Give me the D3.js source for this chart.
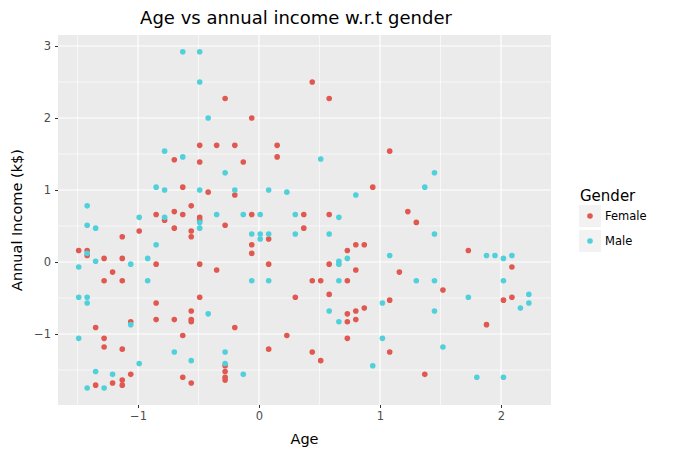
<!DOCTYPE html>
<html>
<head>
<meta charset="utf-8">
<script src="https://cdn.jsdelivr.net/npm/d3@7"></script>
<style>
  body { margin: 0; background: #fff; }
  text { font-family: "DejaVu Sans", sans-serif; }
</style>
</head>
<body>
<script>
// standardized [age, income]
const female = [
  [-0.28, 2.27], [-0.49, 1.62], [-0.35, 1.62], [-0.70, 1.42], [-0.49, 1.39],
  [0.44, 2.50], [0.58, 2.27], [-0.06, 2.00], [-0.20, 1.62], [0.15, 1.62], [0.15, 1.46],
  [-0.13, 1.39], [1.08, 1.54],
  [-0.63, 1.04], [-0.42, 0.97], [-0.56, 0.78], [-0.70, 0.70], [-0.85, 0.66], [-0.63, 0.66],
  [-0.78, 0.58], [-0.49, 0.62], [-0.49, 0.58], [-0.28, 0.51], [-0.70, 0.47], [-0.99, 0.43],
  [-0.56, 0.43], [-1.13, 0.35], [-0.56, 0.35], [-1.49, 0.16], [-1.42, 0.16], [-1.42, 0.09],
  [-1.28, 0.05], [-1.13, 0.05], [-0.85, -0.03], [-0.49, -0.03], [-0.35, -0.11], [-1.21, -0.14],
  [-1.28, -0.26], [-1.13, -0.26],
  [-0.20, 0.93], [0.94, 1.04], [-0.06, 0.66], [0.37, 0.66], [0.58, 0.66], [0.37, 0.47],
  [0.08, 0.32], [-0.06, 0.24], [0.80, 0.24], [0.87, 0.24], [0.73, 0.16], [-0.06, 0.12],
  [0.08, -0.03], [0.58, -0.03], [0.80, -0.11], [0.44, -0.26], [0.51, -0.26], [0.73, -0.26],
  [1.23, 0.70], [1.30, 0.55], [1.73, 0.16], [2.09, -0.07], [1.16, -0.14], [1.52, -0.39],
  [-0.49, -0.49], [-0.85, -0.57], [-0.56, -0.68], [-0.56, -0.80], [-0.56, -0.83], [-0.85, -0.80],
  [-0.70, -0.80], [-1.06, -0.83], [-1.35, -0.91], [-0.63, -1.02], [-1.28, -1.06], [-1.28, -1.18],
  [-1.13, -1.21], [-0.28, -1.44], [-0.28, -1.52], [-0.28, -1.60], [-0.28, -1.64], [-1.06, -1.56],
  [-0.63, -1.60], [-1.13, -1.64], [-1.21, -1.68], [-0.56, -1.68], [-1.35, -1.71], [-1.13, -1.71],
  [0.30, -0.49], [0.58, -0.45], [1.08, -0.53], [0.73, -0.72], [0.80, -0.68], [0.87, -0.64],
  [0.73, -0.83], [0.80, -0.80], [-0.20, -0.91], [0.23, -1.02], [0.73, -1.06], [0.08, -1.21],
  [0.44, -1.25], [1.08, -1.25], [0.51, -1.37],
  [2.02, -0.53], [2.09, -0.49], [1.88, -0.87], [1.37, -1.56]
];
const male = [
  [-0.63, 2.92], [-0.49, 2.92], [-0.49, 2.50], [-0.42, 2.00], [-0.78, 1.54], [-0.63, 1.46],
  [0.51, 1.43],
  [-0.28, 1.24], [-0.85, 1.04], [-0.78, 1.00], [-0.49, 1.00], [-1.42, 0.78], [-0.35, 0.66],
  [-0.99, 0.62], [-0.78, 0.62], [-0.49, 0.55], [-1.42, 0.51], [-1.35, 0.47], [-0.49, 0.47],
  [-0.85, 0.24], [-1.42, 0.12], [-0.92, 0.05], [-1.35, 0.01], [-1.06, -0.03], [-1.49, -0.07],
  [-0.92, -0.26],
  [-0.20, 1.00], [0.08, 1.00], [0.23, 0.97], [0.80, 0.93], [-0.13, 0.66], [0.01, 0.66],
  [0.30, 0.66], [0.66, 0.62], [-0.06, 0.39], [0.01, 0.39], [0.08, 0.39], [0.30, 0.39],
  [0.58, 0.39], [0.01, 0.32], [1.08, 0.09], [0.73, 0.05], [0.66, 0.01], [0.66, -0.03],
  [-0.06, -0.26], [0.08, -0.26], [0.66, -0.26],
  [1.45, 1.24], [1.37, 1.04], [1.45, 0.39], [1.88, 0.09], [1.95, 0.09], [2.02, 0.05],
  [2.09, 0.09], [1.30, -0.26], [1.45, -0.26], [2.02, -0.26],
  [-1.49, -0.49], [-1.42, -0.49], [-1.42, -0.57], [-0.42, -0.72], [-1.06, -0.87], [-1.49, -1.06],
  [-0.70, -1.25], [-0.28, -1.25], [-0.56, -1.37], [-0.99, -1.41], [-0.28, -1.41], [-1.35, -1.52],
  [-1.21, -1.56], [-1.42, -1.75], [-1.28, -1.75],
  [1.02, -0.57], [0.58, -0.68], [0.66, -0.83], [1.02, -1.06], [0.94, -1.44], [-0.13, -1.56],
  [1.73, -0.49], [2.23, -0.45], [2.23, -0.57], [2.16, -0.64], [1.45, -0.68], [1.52, -1.18],
  [1.80, -1.60], [2.02, -1.60]
];
const genders = ["Female", "Male"];
const colors = ["#E0584F", "#4FD0DA"];
const xTicks = [-1, 0, 1, 2];
const yTicks = [-1, 0, 1, 2, 3];
const xMinor = [-1.5, -0.5, 0.5, 1.5];
const yMinor = [-1.5, -0.5, 0.5, 1.5, 2.5];

const width = 676, height = 456;
const panel = { left: 58, right: 551, top: 35, bottom: 405 };

const svg = d3.select("body").append("svg")
  .attr("width", width)
  .attr("height", height);

const x = d3.scaleLinear().domain([-1.661, 2.413]).range([panel.left, panel.right]);
const y = d3.scaleLinear().domain([-1.986, 3.153]).range([panel.bottom, panel.top]);
const color = d3.scaleOrdinal().domain(genders).range(colors);

svg.append("rect")
  .attr("x", panel.left).attr("y", panel.top)
  .attr("width", panel.right - panel.left)
  .attr("height", panel.bottom - panel.top)
  .attr("fill", "#EBEBEB");

let grid = svg.append("g");
grid.selectAll(".xminor").data(xMinor).enter().append("line")
  .attr("x1", d => x(d)).attr("x2", d => x(d))
  .attr("y1", panel.top).attr("y2", panel.bottom)
  .attr("stroke", "#fff").attr("stroke-width", 0.6);
grid.selectAll(".yminor").data(yMinor).enter().append("line")
  .attr("y1", d => y(d)).attr("y2", d => y(d))
  .attr("x1", panel.left).attr("x2", panel.right)
  .attr("stroke", "#fff").attr("stroke-width", 0.6);
grid.selectAll(".xmajor").data(xTicks).enter().append("line")
  .attr("x1", d => x(d)).attr("x2", d => x(d))
  .attr("y1", panel.top).attr("y2", panel.bottom)
  .attr("stroke", "#fff").attr("stroke-width", 1.2);
grid.selectAll(".ymajor").data(yTicks).enter().append("line")
  .attr("y1", d => y(d)).attr("y2", d => y(d))
  .attr("x1", panel.left).attr("x2", panel.right)
  .attr("stroke", "#fff").attr("stroke-width", 1.2);

let fmt = d => d < 0 ? "\u2212" + Math.abs(d) : String(d);

let xAxis = svg.append("g")
  .attr("transform", `translate(0,${panel.bottom})`)
  .call(d3.axisBottom(x).tickValues(xTicks).tickFormat(fmt).tickSize(3).tickPadding(4));
let yAxis = svg.append("g")
  .attr("transform", `translate(${panel.left},0)`)
  .call(d3.axisLeft(y).tickValues(yTicks).tickFormat(fmt).tickSize(3).tickPadding(4));
[xAxis, yAxis].forEach(a => {
  a.select(".domain").remove();
  a.selectAll(".tick line").attr("stroke", "#333").attr("stroke-width", 1);
  a.selectAll(".tick text").attr("fill", "#4D4D4D")
    .style("font-family", "DejaVu Sans").style("font-size", "11.5px");
});

let points = [
  ...female.map(d => ({ age: d[0], income: d[1], gender: "Female" })),
  ...male.map(d => ({ age: d[0], income: d[1], gender: "Male" }))
];

svg.append("g").selectAll("circle")
  .data(points)
  .enter()
  .append("circle")
  .attr("cx", d => x(d.age))
  .attr("cy", d => y(d.income))
  .attr("r", 2.8)
  .attr("fill", d => color(d.gender));

svg.append("text")
  .attr("x", 296).attr("y", 24)
  .attr("text-anchor", "middle")
  .style("font-size", "18px")
  .text("Age vs annual income w.r.t gender");

svg.append("text")
  .attr("x", (panel.left + panel.right) / 2).attr("y", 444)
  .attr("text-anchor", "middle")
  .style("font-size", "14.5px")
  .text("Age");

svg.append("text")
  .attr("transform", `translate(22,${(panel.top + panel.bottom) / 2}) rotate(-90)`)
  .attr("text-anchor", "middle")
  .style("font-size", "14.5px")
  .text("Annual Income (k$)");

let legend = svg.append("g");
legend.append("text")
  .attr("x", 580).attr("y", 201)
  .style("font-size", "15px")
  .text("Gender");
let keys = legend.selectAll(".key").data(genders).enter().append("g")
  .attr("transform", (d, i) => `translate(579,${205 + i * 25})`);
keys.append("rect")
  .attr("width", 22).attr("height", 22)
  .attr("fill", "#F2F2F2");
keys.append("circle")
  .attr("cx", 11).attr("cy", 11).attr("r", 2.8)
  .attr("fill", d => color(d));
keys.append("text")
  .attr("x", 26).attr("y", 15)
  .style("font-size", "11.5px")
  .text(d => d);
</script>
</body>
</html>
